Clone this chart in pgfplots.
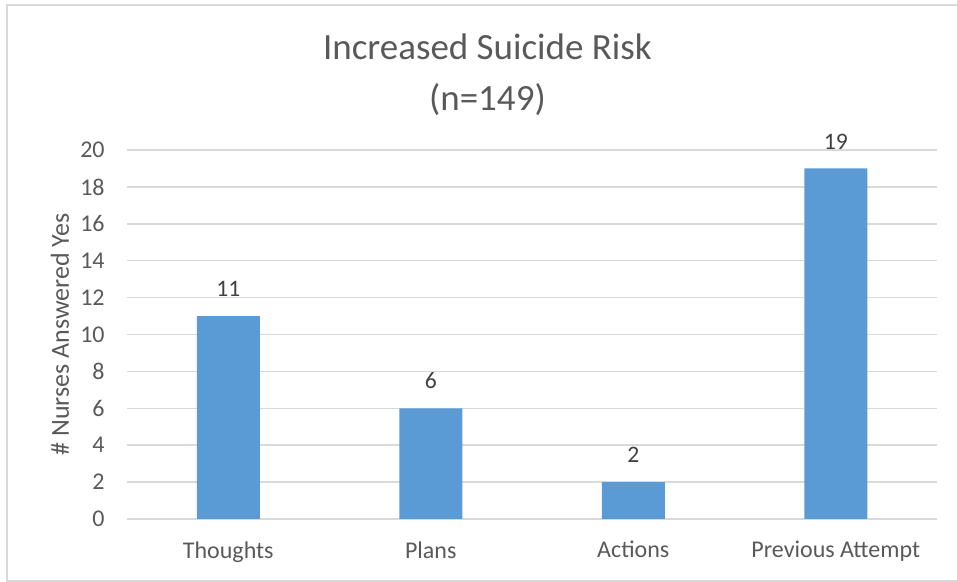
\documentclass[border=0pt]{standalone}
\usepackage{fontspec}
\setmainfont{Carlito}
\usepackage{pgfplots}
\pgfplotsset{compat=1.18}
\definecolor{barblue}{HTML}{5B9BD5}
\definecolor{gridgray}{HTML}{D9D9D9}
\definecolor{txtgray}{HTML}{595959}
\definecolor{lblgray}{HTML}{404040}
\begin{document}
\begin{tikzpicture}
\useasboundingbox (0,0) rectangle (478.5pt,291pt);
\draw[gridgray, line width=1pt] (478.5pt,288.5pt) -- (3.5pt,288.5pt) -- (3.5pt,0.5pt) -- (478.5pt,0.5pt);
\begin{axis}[
  at={(63.5pt,31.5pt)}, anchor=south west,
  width=405pt, height=184.5pt, scale only axis,
  xmin=-0.5, xmax=3.5, ymin=0, ymax=20,
  ytick={0,2,...,20},
  xtick={0,1,2,3},
  xticklabels={Thoughts,Plans,Actions,Previous Attempt},
  ymajorgrids, grid style={gridgray, line width=0.75pt},
  axis line style={draw=none},
  major tick length=0pt,
  tick style={draw=none},
  ticklabel style={font=\fontsize{12}{14}\selectfont, text=txtgray},
  /pgf/number format/assume math mode=true,
  xticklabel style={anchor=north, inner sep=0pt, yshift=-11pt},
  yticklabel style={anchor=east, inner sep=0pt, xshift=-11pt},
  ylabel={\# Nurses Answered Yes},
  every axis y label/.style={at={(axis description cs:-0.0827,0.5)}, rotate=90, anchor=center, font=\fontsize{13}{14}\selectfont, text=txtgray},
  title={Increased Suicide Risk\\(n=149)},
  every axis title/.style={at={(axis description cs:0.445,1.205)}, anchor=center, align=center, font=\fontsize{18.5}{25.5}\selectfont, text=txtgray},
  ybar, bar width=31.5pt,
  nodes near coords,
  every node near coord/.append style={font=\fontsize{11.8}{13}\selectfont, text=lblgray, anchor=south, inner sep=0pt, yshift=9.5pt},
]
\addplot[fill=barblue, draw=none] coordinates {(0,11) (1,6) (2,2) (3,19)};
\end{axis}
\end{tikzpicture}
\end{document}
